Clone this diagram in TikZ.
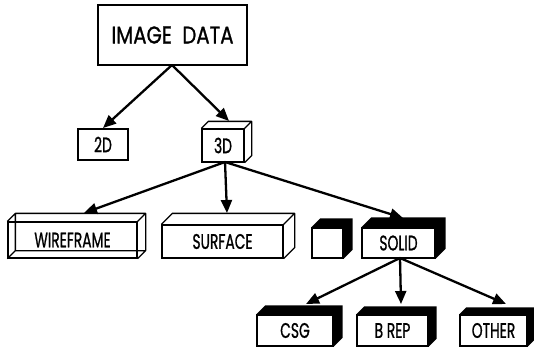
\documentclass[tikz,border=0pt]{standalone}
\usepackage{fontspec}
\setmainfont{Poppins}[FakeBold=1.2]
\usetikzlibrary{arrows.meta}
\newcommand\lab[1]{\scalebox{0.66}[1]{\fontsize{21}{21}\selectfont #1}}
\tikzset{
  face/.style={draw, line width=1.3pt, fill=white, rectangle, inner sep=0pt},
  conn/.style={line width=2.3pt, -{Triangle[length=13pt,width=11pt]}},
}
% black-topped solid box: name, cx, cy, w, h, d, text
\newcommand\blkbox[7]{%
  \node[face, minimum width=#4pt, minimum height=#5pt] (#1) at (#2,#3) {\lab{#7}};
  \fill (#1.north west) -- ++(#6,-#6) -- ([shift={(#6,-#6)}]#1.north east)
     -- ([shift={(#6,-#6)}]#1.south east) -- (#1.south east) -- (#1.north east) -- cycle;
  \draw[line width=1.3pt] (#1.north west) rectangle (#1.south east);
}
% outline box
\newcommand\outbox[7]{%
  \node[face, minimum width=#4pt, minimum height=#5pt] (#1) at (#2,#3) {\lab{#7}};
  \draw[line width=1.3pt, line join=round] (#1.north west) -- ++(#6,-#6) -- ([shift={(#6,-#6)}]#1.north east)
     -- ([shift={(#6,-#6)}]#1.south east) -- (#1.south east)
     (#1.north east) -- ++(#6,-#6);
}
% wireframe box
\newcommand\wirebox[7]{%
  \node[face, minimum width=#4pt, minimum height=#5pt] (#1) at (#2,#3) {\lab{#7}};
  \draw[line width=1.3pt, line join=round]
     ([shift={(#6,-#6)}]#1.north west) rectangle ([shift={(#6,-#6)}]#1.south east)
     (#1.north west) -- ++(#6,-#6) (#1.north east) -- ++(#6,-#6)
     (#1.south west) -- ++(#6,-#6) (#1.south east) -- ++(#6,-#6);
  \draw[line width=1.3pt] (#1.north west) rectangle (#1.south east);
}
\begin{document}
\begin{tikzpicture}[x=1pt,y=-1pt]
\useasboundingbox (0,0) rectangle (534,350);
\node[face, minimum width=149pt, minimum height=60pt] (img) at (172.5,35) {\scalebox{0.82}[1]{\fontsize{24}{24}\selectfont IMAGE\ \ DATA}};
\node[face, minimum width=50pt, minimum height=31pt] (d2) at (103,144.5) {\lab{2D}};
\outbox{d3}{223}{145.5}{42}{33}{7}{3D}
\wirebox{wire}{72.5}{240}{129}{36}{8}{WIREFRAME}
\outbox{surf}{222.5}{241.5}{121}{33}{11}{SURFACE}
\blkbox{blank}{327.5}{243}{31}{30}{9}{}
\blkbox{solid}{398.5}{243}{73}{30}{10}{SOLID}
\blkbox{csg}{295}{330.5}{76}{31}{9}{CSG}
\blkbox{brep}{392.5}{330.5}{71}{31}{8}{B REP}
\blkbox{other}{493.5}{330.5}{67}{31}{7}{OTHER}
% connector end points
\coordinate (imgb) at (172,65);
\coordinate (d2t) at (103,128);
\coordinate (d3t) at (229,121);
\coordinate (d3b) at (225,162);
\coordinate (wiret) at (84,213);
\coordinate (surft) at (227,213);
\coordinate (solidt) at (403,218);
\coordinate (solidb) at (400,258);
\coordinate (csgt) at (306,304);
\coordinate (brept) at (401,304);
\coordinate (othert) at (506,304);
\draw[conn] (imgb) -- (d2t);
\draw[conn] (imgb) -- (d3t);
\draw[conn] (d3b) -- (wiret);
\draw[conn] (d3b) -- (surft);
\draw[conn] (d3b) -- (solidt);
\draw[conn] (solidb) -- (csgt);
\draw[conn] (solidb) -- (brept);
\draw[conn] (solidb) -- (othert);
\end{tikzpicture}
\end{document}
